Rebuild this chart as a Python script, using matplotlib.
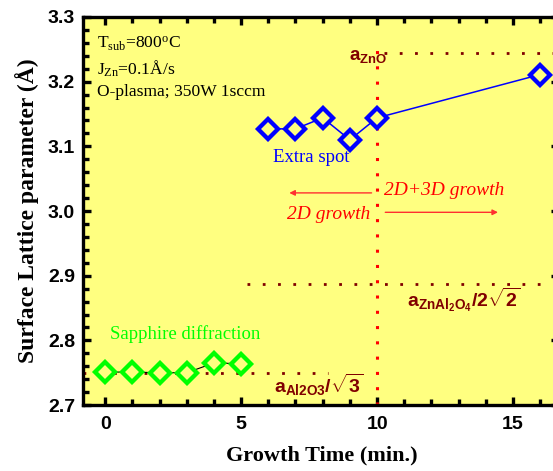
import matplotlib
matplotlib.use('Agg')
import matplotlib.pyplot as plt
from matplotlib.ticker import MultipleLocator

plt.rcParams['mathtext.fontset'] = 'custom'
plt.rcParams['mathtext.rm'] = 'Liberation Serif'
plt.rcParams['mathtext.it'] = 'Liberation Serif:italic'
plt.rcParams['mathtext.bf'] = 'Liberation Sans:bold'

# data
sapphire_t = [0, 1, 2, 3, 4, 5]
sapphire_a = [2.751, 2.751, 2.750, 2.750, 2.765, 2.764]
extra_t = [6, 7, 8, 9, 10, 16]
extra_a = [3.127, 3.127, 3.144, 3.110, 3.144, 3.211]

a_zno = 3.245
a_spinel = 2.887
a_al2o3 = 2.750
t_switch = 10

bg = '#FFFF80'
dred = '#800000'

fig = plt.figure(figsize=(5.53, 4.71), dpi=100)
ax = fig.add_axes([0.1508, 0.140, 0.8605, 0.824])
ax.set_facecolor(bg)

# reference lattice lines
ax.plot([-0.8, 8.2], [a_al2o3, a_al2o3], color=dred, lw=2, ls=(0, (1, 4.5)), zorder=2)
ax.plot([5.2, 16.7], [a_spinel, a_spinel], color=dred, lw=2, ls=(0, (1, 4.5)), zorder=2)
ax.plot([10.25, 16.7], [a_zno, a_zno], color=dred, lw=2, ls=(0, (1, 4.5)), zorder=2)
ax.plot([t_switch, t_switch], [2.7, 3.255], color='red', lw=2.2, ls=(0, (1, 4)), zorder=2)

# data
ax.plot(sapphire_t, sapphire_a, color='black', lw=0.8, marker='D', ms=10.5,
        mfc=bg, mec='#00FF00', mew=3.1, zorder=4)
ax.plot(extra_t, extra_a, color='blue', lw=1.1, marker='D', ms=10.5,
        mfc=bg, mec='blue', mew=3.1, zorder=4)

# arrows
ax.annotate('', xy=(6.67, 3.028), xytext=(9.9, 3.028),
            arrowprops=dict(arrowstyle='-|>', color='#FF3030', lw=1, mutation_scale=8))
ax.annotate('', xy=(14.55, 2.998), xytext=(10.2, 2.998),
            arrowprops=dict(arrowstyle='-|>', color='#FF3030', lw=1, mutation_scale=8))

serif = 'Liberation Serif'
ax.text(8.22, 2.995, '2D growth', color='red', fontsize=14, family=serif,
        style='italic', ha='center', va='center')
ax.text(12.48, 3.032, '2D+3D growth', color='red', fontsize=14, family=serif,
        style='italic', ha='center', va='center')
ax.text(6.19, 3.083, 'Extra spot', color='blue', fontsize=13.5, family=serif,
        ha='left', va='center')
ax.text(0.19, 2.81, 'Sapphire diffraction', color='#00FF00', fontsize=13.5,
        family=serif, ha='left', va='center')

ax.text(-0.3, 3.258, r'T$_{\rm sub}$=800$^{\rm o}$C', fontsize=12.6, family=serif,
        ha='left', va='center')
ax.text(-0.3, 3.220, r'J$_{\rm Zn}$=0.1Å/s', fontsize=12.6, family=serif,
        ha='left', va='center')
ax.text(-0.3, 3.184, 'O-plasma; 350W 1sccm', fontsize=12.6, family=serif,
        ha='left', va='center')

ax.text(8.95, 3.240, r'$\mathbf{a_{ZnO}}$', color=dred, fontsize=13.5,
        ha='left', va='center')
ax.text(11.1, 2.862, r'$\mathbf{a_{ZnAl_2O_4}/2\sqrt{2}}$', color=dred, fontsize=14,
        ha='left', va='center')
ax.text(6.2, 2.731, r'$\mathbf{a_{Al2O3}/\sqrt{3}}$', color=dred, fontsize=14,
        ha='left', va='center')

ax.set_xlim(-0.8, 16.7)
ax.set_ylim(2.7, 3.3)
ax.xaxis.set_major_locator(MultipleLocator(5))
ax.xaxis.set_minor_locator(MultipleLocator(1))
ax.yaxis.set_major_locator(MultipleLocator(0.1))
ax.yaxis.set_minor_locator(MultipleLocator(0.02))
ax.set_yticks([2.7, 2.8, 2.9, 3.0, 3.1, 3.2, 3.3])
ax.set_yticklabels(['2.7', '2.8', '2.9', '3.0', '3.1', '3.2', '3.3'])

for s in ax.spines.values():
    s.set_linewidth(2.4)
ax.tick_params(which='major', direction='in', length=6, width=2.4,
               top=True, right=True, pad=8)
ax.tick_params(which='minor', direction='in', length=4, width=2.4,
               top=True, right=False)
ax.tick_params(axis='y', which='major', pad=6)
for lab in ax.get_xticklabels() + ax.get_yticklabels():
    lab.set_family('Liberation Sans')
    lab.set_fontweight('bold')
    lab.set_fontsize(14)

ax.set_xlabel('Growth Time (min.)', family=serif, fontweight='bold', fontsize=16,
              labelpad=9)
ax.set_ylabel('Surface Lattice parameter (Å)', family=serif, fontweight='bold',
              fontsize=17, labelpad=6)

fig.savefig('out.png', dpi=100)
